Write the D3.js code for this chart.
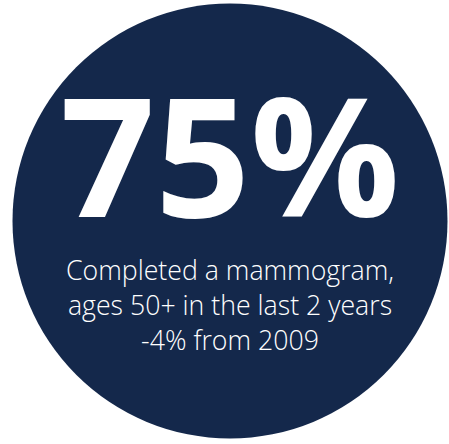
<!DOCTYPE html>
<html>
<head>
<meta charset="utf-8">
<script src="https://cdn.jsdelivr.net/npm/d3@7"></script>
<style>
  html, body { margin: 0; padding: 0; background: #fff; }
  svg { display: block; }
</style>
</head>
<body>
<div id="chart"></div>
<script>
// Data
var statValue = ['75%'];
var captionLines = [
  'Completed a mammogram,',
  'ages 50+ in the last 2 years',
  '-4% from 2009'
];

var W = 449, H = 444;
var cx = 230, cy = 221, R = 217.5;

var svg = d3.select('#chart')
  .append('svg')
  .attr('width', W).attr('height', H);

// Background disc
svg.append('circle')
  .attr('cx', cx).attr('cy', cy)
  .attr('r', R)
  .attr('fill', '#14284b');

// Big number
svg.selectAll('text.stat')
  .data(statValue)
  .enter().append('text')
  .attr('class', 'stat')
  .attr('x', cx).attr('y', 217)
  .attr('text-anchor', 'middle')
  .attr('font-family', '"Open Sans", sans-serif')
  .attr('font-weight', 700)
  .attr('font-size', 166)
  .attr('fill', '#fff')
  .text(function(d) { return d; });

// Caption lines
var lineY = d3.scalePoint()
  .domain(d3.range(captionLines.length))
  .range([280, 350]);

svg.selectAll('text.caption')
  .data(captionLines)
  .enter().append('text')
  .attr('class', 'caption')
  .attr('x', cx)
  .attr('y', function(d, i) { return lineY(i); })
  .attr('text-anchor', 'middle')
  .attr('font-family', '"Open Sans", sans-serif')
  .attr('font-weight', 300)
  .attr('font-size', 26.7)
  .attr('fill', '#fff')
  .text(function(d) { return d; });
</script>
</body>
</html>
